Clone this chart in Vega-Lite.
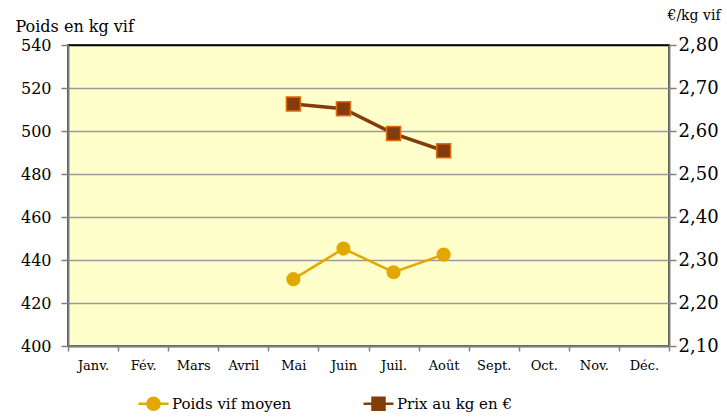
{
  "$schema": "https://vega.github.io/schema/vega-lite/v6.json",
  "width": 601,
  "height": 301,
  "autosize": {"type": "none"},
  "padding": {"left": 68, "top": 45, "right": 58, "bottom": 72},
  "background": "white",
  "config": {
    "font": "DejaVu Serif",
    "view": {"fill": "#FFFFCC", "stroke": "#000000", "strokeWidth": 1.5},
    "axis": {
      "domainColor": "#808080",
      "domainWidth": 2,
      "tickColor": "#808080",
      "tickWidth": 1.5,
      "labelColor": "#000000",
      "titleColor": "#000000",
      "titleFontWeight": "normal",
      "labelFont": "DejaVu Serif",
      "titleFont": "DejaVu Serif"
    }
  },
  "data": {
    "values": [
      {"mois": "Mai", "serie": "Poids vif moyen", "valeur": 431.1},
      {"mois": "Juin", "serie": "Poids vif moyen", "valeur": 445.3},
      {"mois": "Juil.", "serie": "Poids vif moyen", "valeur": 434.3},
      {"mois": "Août", "serie": "Poids vif moyen", "valeur": 442.5},
      {"mois": "Mai", "serie": "Prix au kg en €", "valeur": 2.663},
      {"mois": "Juin", "serie": "Prix au kg en €", "valeur": 2.652},
      {"mois": "Juil.", "serie": "Prix au kg en €", "valeur": 2.594},
      {"mois": "Août", "serie": "Prix au kg en €", "valeur": 2.554}
    ]
  },
  "encoding": {
    "x": {
      "field": "mois",
      "type": "ordinal",
      "scale": {
        "type": "band",
        "domain": ["Janv.", "Fév.", "Mars", "Avril", "Mai", "Juin", "Juil.", "Août", "Sept.", "Oct.", "Nov.", "Déc."],
        "paddingInner": 0,
        "paddingOuter": 0
      },
      "axis": {
        "title": null,
        "labelAngle": 0,
        "labelFontSize": 13,
        "tickBand": "extent",
        "tickSize": 5,
        "labelPadding": 8,
        "grid": false
      }
    },
    "color": {
      "field": "serie",
      "type": "nominal",
      "scale": {"domain": ["Poids vif moyen", "Prix au kg en €"], "range": ["#E3A800", "#843C0C"]},
      "legend": {
        "title": null,
        "orient": "none",
        "direction": "horizontal",
        "legendX": 69,
        "legendY": 342,
        "labelFont": "DejaVu Serif",
        "labelFontSize": 15,
        "labelOffset": 2,
        "columnPadding": 66,
        "symbolSize": 900,
        "symbolStrokeWidth": 2.5,
        "labelColor": "#000000",
        "encode": {
          "symbols": {
            "update": {
              "shape": {"signal": "datum.value === 'Poids vif moyen' ? 'M-1,0H1M-0.4,0A0.4,0.4,0,1,1,0.4,0A0.4,0.4,0,1,1,-0.4,0Z' : 'M-1,0H-0.4M0.4,0H1M-0.4,-0.4H0.4V0.4H-0.4Z'"},
              "fill": {"signal": "datum.value === 'Poids vif moyen' ? '#E3A800' : '#843C0C'"},
              "stroke": {"signal": "datum.value === 'Poids vif moyen' ? '#E3A800' : '#843C0C'"},
              "opacity": {"value": 1},
              "fillOpacity": {"value": 1},
              "strokeWidth": {"value": 2.5}
            }
          }
        }
      }
    }
  },
  "layer": [
    {
      "transform": [{"filter": "datum.serie === 'Poids vif moyen'"}],
      "encoding": {
        "y": {
          "field": "valeur",
          "type": "quantitative",
          "scale": {"domain": [400, 540], "nice": false, "zero": false},
          "axis": {
            "orient": "left",
            "values": [400, 420, 440, 460, 480, 500, 520, 540],
            "format": "d",
            "labelFontSize": 16,
            "tickSize": 7,
            "labelPadding": 10,
            "grid": true,
            "gridColor": {"condition": {"test": "datum.value === 540", "value": "#000000"}, "value": "#9A9A9A"},
            "gridWidth": 1.5,
            "title": "Poids en kg vif",
            "titleFontSize": 16,
            "titleAngle": 0,
            "titleAlign": "left",
            "titleBaseline": "alphabetic",
            "titleX": -53,
            "titleY": -14
          }
        }
      },
      "layer": [
        {"mark": {"type": "line", "strokeWidth": 2.5}},
        {"mark": {"type": "point", "shape": "circle", "filled": true, "size": 200, "opacity": 1}}
      ]
    },
    {
      "transform": [{"filter": "datum.serie === 'Prix au kg en €'"}],
      "encoding": {
        "y": {
          "field": "valeur",
          "type": "quantitative",
          "scale": {"domain": [2.1, 2.8], "nice": false, "zero": false},
          "axis": {
            "orient": "right",
            "values": [2.1, 2.2, 2.3, 2.4, 2.5, 2.6, 2.7, 2.8],
            "labelExpr": "replace(format(datum.value, '.2f'), '.', ',')",
            "labelFontSize": 18,
            "tickSize": 7,
            "labelPadding": 2,
            "grid": false,
            "title": "€/kg vif",
            "titleFontSize": 14,
            "titleAngle": 0,
            "titleAlign": "left",
            "titleBaseline": "alphabetic",
            "titleX": -2,
            "titleY": -26
          }
        }
      },
      "layer": [
        {"mark": {"type": "line", "strokeWidth": 3.5}},
        {"mark": {"type": "point", "shape": "square", "filled": true, "size": 196, "opacity": 1, "stroke": "#E46C0A", "strokeWidth": 1.5}}
      ]
    }
  ],
  "resolve": {"scale": {"y": "independent"}}
}
